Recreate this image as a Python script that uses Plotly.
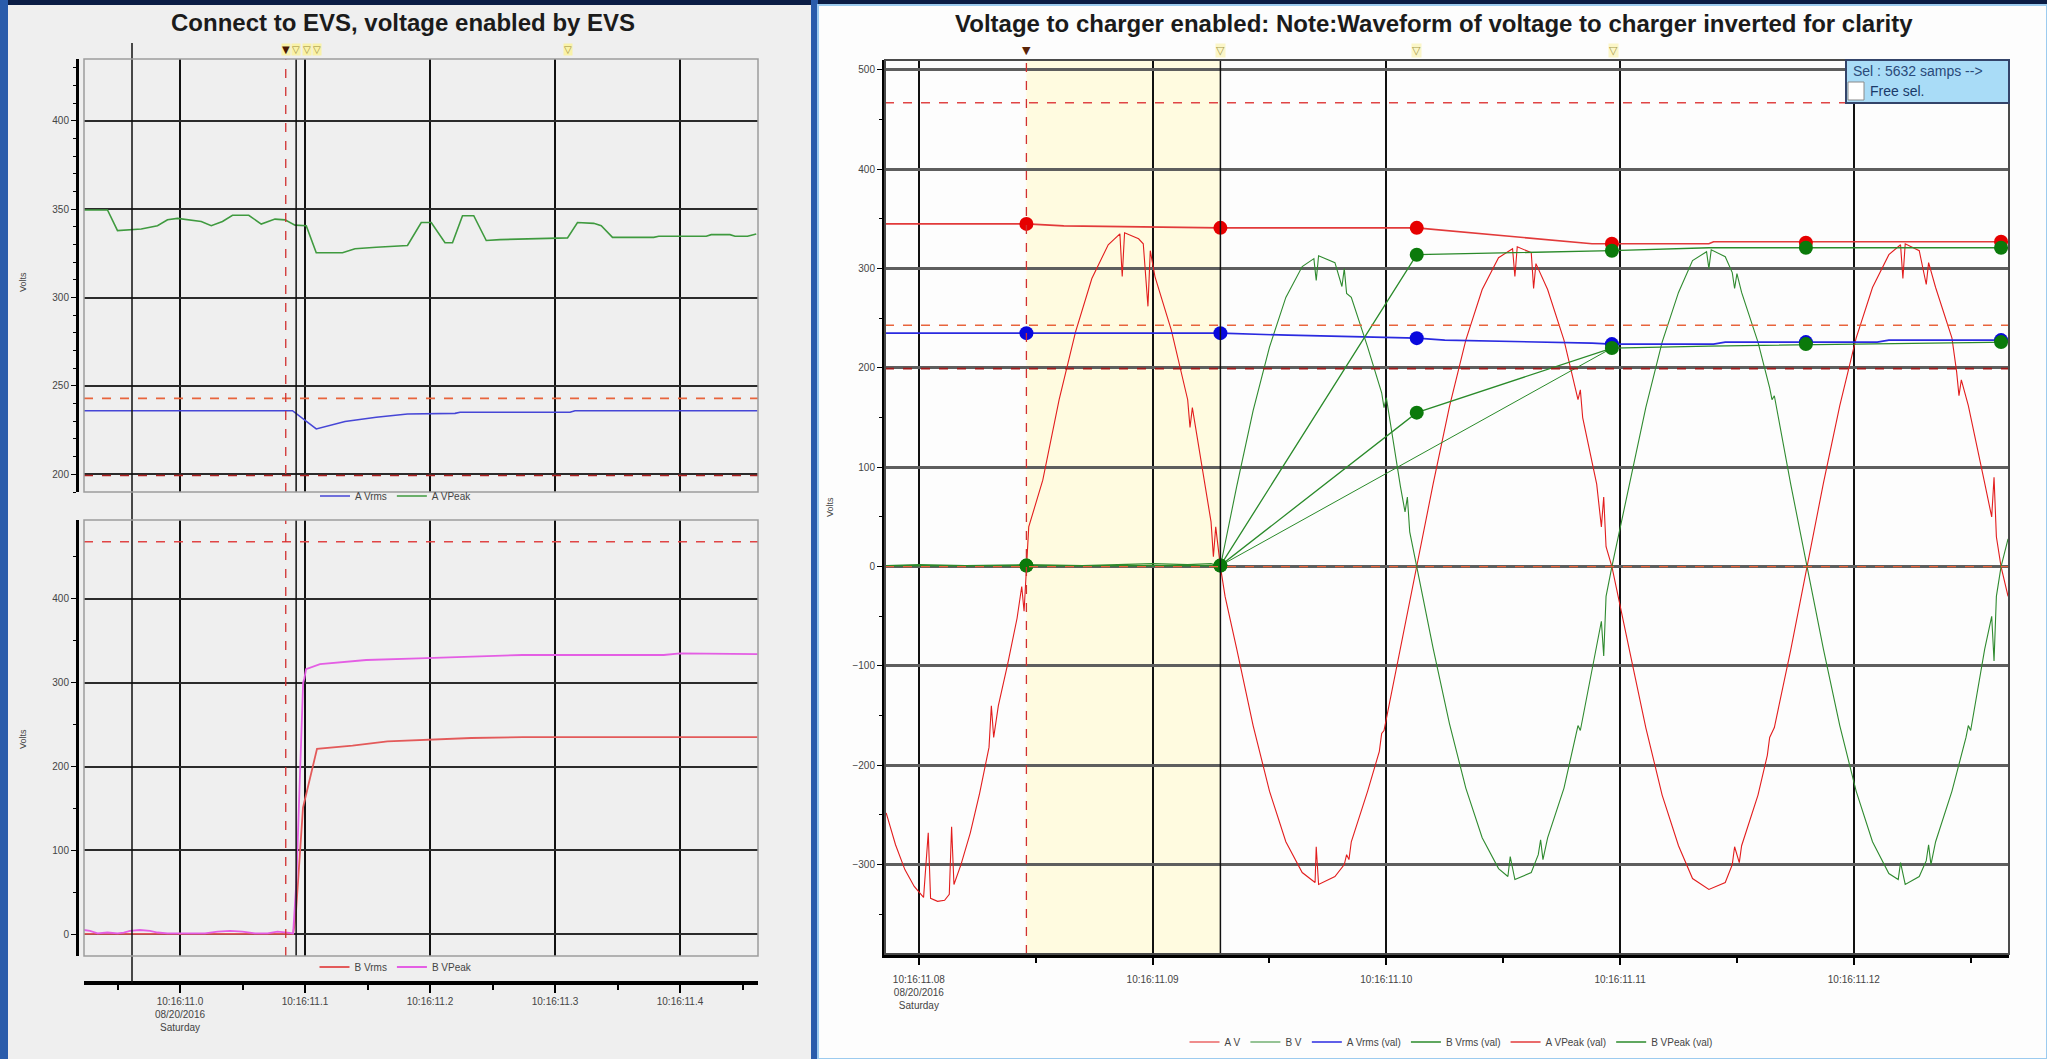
import plotly.graph_objects as go

W, H = 2047, 1059

# ---------------- Left panels: time in seconds after 10:16:11.0 ----------------
L_X_RANGE = [-0.0768, 0.4624]
L_TICK_VALS = [0.0, 0.1, 0.2, 0.3, 0.4]
L_TICK_TEXT = ["10:16:11.0<br>08/20/2016<br>Saturday", "10:16:11.1", "10:16:11.2",
               "10:16:11.3", "10:16:11.4"]

A_VPEAK_T = [-0.077, -0.058, -0.050, -0.042, -0.031, -0.018, -0.010, -0.002, 0.007, 0.017,
             0.025, 0.034, 0.042, 0.055, 0.065, 0.076, 0.084, 0.092, 0.101, 0.109,
             0.130, 0.140, 0.157, 0.182, 0.193, 0.201, 0.212, 0.218, 0.226, 0.235,
             0.245, 0.256, 0.310, 0.318, 0.331, 0.337, 0.346, 0.379, 0.383, 0.421,
             0.425, 0.440, 0.444, 0.454, 0.461]
A_VPEAK_V = [349.6, 349.6, 337.9, 338.4, 338.8, 340.7, 344.0, 344.8, 343.8, 343.1,
             340.7, 343.1, 346.6, 346.6, 341.6, 344.4, 344.0, 341.0, 340.7, 325.4,
             325.4, 327.6, 328.5, 329.5, 342.5, 342.5, 331.0, 331.0, 346.3, 346.3,
             332.3, 332.8, 333.8, 342.5, 342.0, 340.7, 334.1, 334.1, 334.7, 334.7,
             335.6, 335.6, 334.7, 334.7, 336.0]

A_VRMS_T = [-0.0768, 0.090, 0.109, 0.132, 0.157, 0.182, 0.220, 0.224, 0.312, 0.316, 0.462]
A_VRMS_V = [236.0, 236.0, 225.7, 229.9, 232.3, 234.1, 234.5, 235.1, 235.1, 236.0, 236.0]

B_VRMS_T = [-0.0768, 0.0905, 0.0925, 0.0984, 0.1096, 0.138, 0.166, 0.208, 0.233, 0.274, 0.462]
B_VRMS_V = [0.5, 0.5, 20, 151, 221, 225, 230, 233, 234, 235, 235]

B_VPEAK_T = [-0.0768, -0.072, -0.066, -0.058, -0.050, -0.045, -0.040, -0.032, -0.024, -0.018,
             -0.010, 0.000, 0.020, 0.030, 0.040, 0.050, 0.060, 0.070, 0.078, 0.086,
             0.0905, 0.0930, 0.0960, 0.0985, 0.0995, 0.1008, 0.112, 0.130, 0.149, 0.191,
             0.233, 0.274, 0.387, 0.400, 0.462]
B_VPEAK_V = [5, 4, 1, 2, 1, 2, 4, 5, 4, 2,
             1, 1, 1, 3, 4, 3, 1, 1, 3, 2,
             1, 60, 180, 300, 305, 316, 322, 324, 327, 329,
             331, 333, 333, 335, 334]

L_CURSOR_LONG = -0.0384
L_MARK_TRI_FILLED = [0.0846]
L_MARK_TRI_OPEN = [0.0929, 0.1013, 0.10965, 0.3104]

# ---------------- Right panel: time in seconds after 10:16:11.0 ----------------
R_X_RANGE = [0.07855, 0.12664]
R_TICK_VALS = [0.08, 0.09, 0.10, 0.11, 0.12]
R_TICK_TEXT = ["10:16:11.08<br>08/20/2016<br>Saturday", "10:16:11.09", "10:16:11.10",
               "10:16:11.11", "10:16:11.12"]

AV_T = [0.0786, 0.0790, 0.0794, 0.0798, 0.0802, 0.0804, 0.0805, 0.0808, 0.0811, 0.0813,
        0.0814, 0.0815, 0.0818, 0.0822, 0.0826, 0.0830, 0.0831, 0.0832, 0.0834, 0.0838,
        0.0842, 0.0844, 0.0845, 0.0846, 0.0847,
        0.0853, 0.0860, 0.0867, 0.0874, 0.0881, 0.0886, 0.0887, 0.0888, 0.0894, 0.0896,
        0.0898, 0.0899, 0.0901, 0.0908, 0.0915, 0.0916, 0.0917, 0.0922, 0.0925, 0.0926,
        0.0927, 0.0929,
        0.0931, 0.0936, 0.0943, 0.0950, 0.0957, 0.0964, 0.09695, 0.0970, 0.0971, 0.0978,
        0.0982, 0.0983, 0.0984, 0.0985, 0.0992, 0.0997, 0.0998, 0.0999, 0.1006, 0.1013,
        0.1020, 0.1027, 0.1034, 0.1041, 0.1048, 0.1054, 0.1055, 0.1056, 0.1062, 0.1063,
        0.1064, 0.1069, 0.1076, 0.1082, 0.1083, 0.1084, 0.1090, 0.1092, 0.1093, 0.1094,
        0.10965,
        0.1104, 0.1111, 0.1118, 0.1125, 0.1131, 0.1138, 0.1145, 0.1148, 0.1149, 0.1151,
        0.1152, 0.1159, 0.1163, 0.1164, 0.1166, 0.1173, 0.1180,
        0.1187, 0.1194, 0.1201, 0.1208, 0.1215, 0.1220, 0.1221, 0.1222, 0.1228, 0.1231,
        0.1232, 0.1235, 0.1242, 0.1244, 0.1245, 0.1246, 0.1249, 0.1256, 0.1259, 0.1260,
        0.1261, 0.1263, 0.1266]
AV_V = [-248, -280, -305, -322, -333, -268, -334, -337, -336, -330,
        -262, -320, -300, -268, -228, -182, -140, -172, -140, -98,
        -52, -20, -45, 0, 40,
        87, 168, 236, 290, 324, 335, 292, 336, 330, 325,
        262, 318, 292, 238, 168, 140, 160, 87, 45, 10,
        40, 0,
        -30, -83, -160, -226, -277, -308, -318, -282, -320, -312,
        -300, -290, -295, -277, -226, -186, -168, -165, -83, 0,
        83, 161, 228, 279, 311, 320, 292, 322, 316, 280,
        305, 279, 228, 168, 178, 150, 83, 40, 70, 20,
        0,
        -84, -162, -230, -281, -314, -325, -318, -300, -282, -298,
        -281, -230, -190, -172, -162, -84, 0,
        84, 162, 230, 281, 314, 324, 290, 325, 318, 284,
        306, 281, 230, 196, 172, 188, 162, 84, 50, 90,
        30, 0, -30]

BV_T = [0.0786, 0.0800, 0.0820, 0.0846, 0.0870, 0.0900, 0.0915, 0.0925, 0.0929,
        0.0936, 0.0943, 0.0950, 0.0957, 0.0964, 0.0969, 0.0970, 0.0971, 0.0978, 0.0981,
        0.0982, 0.0983, 0.0985, 0.0992, 0.0998, 0.0999, 0.1000, 0.1006, 0.1008, 0.1009,
        0.1010, 0.1013,
        0.1020, 0.1027, 0.1034, 0.1041, 0.1048, 0.1052, 0.1053, 0.1055, 0.1062, 0.1065,
        0.1066, 0.1067, 0.1069, 0.1076, 0.1081, 0.1082, 0.1083, 0.1090, 0.1092, 0.1093,
        0.1094, 0.10965,
        0.1104, 0.1111, 0.1118, 0.1125, 0.1131, 0.1137, 0.1138, 0.1139, 0.1145, 0.1148,
        0.1149, 0.1150, 0.1152, 0.1159, 0.1164, 0.1165, 0.1166, 0.1173, 0.1180,
        0.1187, 0.1194, 0.1201, 0.1208, 0.1215, 0.1219, 0.1220, 0.1222, 0.1228, 0.1231,
        0.1232, 0.1233, 0.1235, 0.1242, 0.1248, 0.1249, 0.1250, 0.1256, 0.1259, 0.1260,
        0.1261, 0.1263, 0.1266]
BV_V = [1, 2, 1, 2, 1, 3, 2, 3, 0,
        81, 157, 221, 271, 302, 310, 288, 313, 306, 282,
        300, 275, 271, 221, 175, 160, 170, 81, 55, 70,
        35, 0,
        -82, -158, -223, -273, -304, -312, -292, -315, -308, -290,
        -275, -295, -273, -223, -172, -160, -165, -82, -55, -90,
        -30, 0,
        83, 160, 226, 276, 308, 317, 300, 319, 312, 296,
        280, 295, 276, 226, 180, 168, 172, 83, 0,
        -83, -160, -226, -277, -309, -315, -298, -320, -312, -296,
        -280, -300, -277, -226, -172, -160, -165, -83, -50, -95,
        -30, 0, 28]

R_CURSOR_T = [0.0846, 0.0929, 0.1013, 0.10965, 0.11795, 0.1263]
A_VPEAK_VAL = [345, 341, 341, 325, 326, 327]
A_VRMS_VAL = [235, 235, 230, 224, 226, 228]
B_VRMS_VAL = [1, 1, 155, 220, 224, 226]
B_VPEAK_VAL = [1, 1, 314, 318, 321, 321]

A_VPEAK_LINE_T = [0.07855, 0.0846, 0.0862, 0.0918, 0.0929, 0.1013, 0.1088, 0.10965, 0.1138, 0.1140, 0.12664]
A_VPEAK_LINE_V = [345, 345, 343, 341, 341, 341, 325, 325, 325, 327, 327]
A_VRMS_LINE_T = [0.07855, 0.0929, 0.0958, 0.0995, 0.1013, 0.1025, 0.1050, 0.1088, 0.10965,
                 0.1140, 0.1145, 0.1210, 0.1215, 0.12664]
A_VRMS_LINE_V = [235, 235, 233, 231, 230, 228, 227, 225, 224, 224, 226, 226, 228, 228]
B_VRMS_LINE_T = [0.07855, 0.0929, 0.1013, 0.10965, 0.1138, 0.12664]
B_VRMS_LINE_V = [1, 1, 155, 220, 222, 226]
B_VPEAK_LINE_T = [0.07855, 0.0929, 0.1013, 0.10965, 0.1138, 0.12664]
B_VPEAK_LINE_V = [1, 1, 314, 318, 321, 321]
B_EXTRA_T = [0.0929, 0.10965]
B_EXTRA_V = [1, 220]

R_MARK_TRI_OPEN = [0.0929, 0.1013, 0.1097]

# ---------------- helpers ----------------
def px(x):
    return x / W


def py(y):
    return 1 - y / H


FONT = "Liberation Sans, Arial, sans-serif"

fig = go.Figure()


def line(x, y, xa, ya, name, color, width, legend, showlegend=True):
    fig.add_trace(go.Scatter(x=x, y=y, xaxis=xa, yaxis=ya, name=name, mode="lines",
                             line=dict(color=color, width=width), legend=legend,
                             showlegend=showlegend, hoverinfo="skip"))


# Left top
line(A_VRMS_T, A_VRMS_V, "x", "y", "A Vrms", "#4646d6", 1.6, "legend")
line(A_VPEAK_T, A_VPEAK_V, "x", "y", "A VPeak", "#3f9a3f", 1.6, "legend")
# Left bottom
line(B_VRMS_T, B_VRMS_V, "x2", "y2", "B Vrms", "#e35a5a", 1.8, "legend2")
line(B_VPEAK_T, B_VPEAK_V, "x2", "y2", "B VPeak", "#e45ee4", 1.8, "legend2")
# Right
line(AV_T, AV_V, "x3", "y3", "A V", "#e21d1d", 1.1, "legend3")
line(BV_T, BV_V, "x3", "y3", "B V", "#2f8a2f", 1.1, "legend3")
line(A_VRMS_LINE_T, A_VRMS_LINE_V, "x3", "y3", "A Vrms (val)", "#2a2ae0", 1.6, "legend3")
line(B_VRMS_LINE_T, B_VRMS_LINE_V, "x3", "y3", "B Vrms (val)", "#2a8a2a", 1.3, "legend3")
line(A_VPEAK_LINE_T, A_VPEAK_LINE_V, "x3", "y3", "A VPeak (val)", "#e23a3a", 1.6, "legend3")
line(B_VPEAK_LINE_T, B_VPEAK_LINE_V, "x3", "y3", "B VPeak (val)", "#2a8a2a", 1.3, "legend3")
line(B_EXTRA_T, B_EXTRA_V, "x3", "y3", "B extra", "#2a8a2a", 1.0, "legend3", showlegend=False)

for vals, col in [(A_VPEAK_VAL, "#e60000"), (A_VRMS_VAL, "#0808dd"),
                  (B_VRMS_VAL, "#0b7a0b"), (B_VPEAK_VAL, "#0b7a0b")]:
    fig.add_trace(go.Scatter(x=R_CURSOR_T, y=vals, xaxis="x3", yaxis="y3", mode="markers",
                             marker=dict(color=col, size=14), showlegend=False,
                             hoverinfo="skip"))

tickfont = dict(family=FONT, size=10, color="#444")

layout = dict(
    width=W, height=H, autosize=False,
    margin=dict(l=0, r=0, t=0, b=0),
    paper_bgcolor="#0b1d45",
    plot_bgcolor="rgba(0,0,0,0)",
    xaxis=dict(domain=[px(84), px(758)], anchor="y", range=L_X_RANGE,
               tickmode="array", tickvals=L_TICK_VALS, showticklabels=False, ticks="",
               showgrid=True, gridcolor="#111", gridwidth=1.5, zeroline=False, showline=False),
    yaxis=dict(domain=[py(492), py(59)], anchor="free", position=px(77), range=[190, 435],
               tick0=0, dtick=50, showgrid=True, gridcolor="#2b2b2b", gridwidth=2.2,
               zeroline=False, showline=True, linecolor="black", linewidth=3,
               ticks="outside", ticklen=5, tickcolor="black", tickfont=tickfont,
               minor=dict(dtick=10, tick0=0, ticks="outside", ticklen=3, tickcolor="black")),
    xaxis2=dict(domain=[px(84), px(758)], anchor="free", position=py(983), range=L_X_RANGE,
                tickmode="array", tickvals=L_TICK_VALS, ticktext=L_TICK_TEXT,
                ticks="outside", ticklen=8, tickwidth=2, tickcolor="black",
                showline=True, linecolor="black", linewidth=4,
                showgrid=True, gridcolor="#111", gridwidth=1.5, zeroline=False,
                tickfont=tickfont,
                minor=dict(dtick=0.05, tick0=0, ticks="outside", ticklen=5, tickwidth=1.5,
                           tickcolor="black")),
    yaxis2=dict(domain=[py(956), py(520)], anchor="free", position=px(77), range=[-26, 494],
                tick0=0, dtick=100, showgrid=True, gridcolor="#2b2b2b", gridwidth=2.2,
                zeroline=False, showline=True, linecolor="black", linewidth=3,
                ticks="outside", ticklen=5, tickcolor="black", tickfont=tickfont,
                minor=dict(dtick=50, tick0=0, ticks="outside", ticklen=3, tickcolor="black")),
    xaxis3=dict(domain=[px(885), px(2009)], anchor="y3", range=R_X_RANGE,
                tickmode="array", tickvals=R_TICK_VALS, ticktext=R_TICK_TEXT,
                ticks="outside", ticklen=7, tickwidth=2, tickcolor="black",
                showline=True, linecolor="black", linewidth=4,
                showgrid=True, gridcolor="#111", gridwidth=1.5, zeroline=False,
                tickfont=tickfont, ticklabelstandoff=6,
                minor=dict(dtick=0.005, tick0=0, ticks="outside", ticklen=5, tickwidth=1.5,
                           tickcolor="black")),
    yaxis3=dict(domain=[py(954), py(60)], anchor="x3", range=[-390, 510],
                tick0=0, dtick=100, showgrid=True, gridcolor="#5e5e5e", gridwidth=3,
                zeroline=False, showline=True, linecolor="black", linewidth=3,
                ticks="outside", ticklen=5, tickcolor="black", tickfont=tickfont,
                minor=dict(dtick=50, tick0=0, ticks="outside", ticklen=3, tickcolor="black")),
    legend=dict(orientation="h", x=px(396), y=py(496), xanchor="center", yanchor="middle",
                font=dict(family=FONT, size=10, color="#444"), bgcolor="rgba(0,0,0,0)"),
    legend2=dict(orientation="h", x=px(396), y=py(967), xanchor="center", yanchor="middle",
                 font=dict(family=FONT, size=10, color="#444"), bgcolor="rgba(0,0,0,0)"),
    legend3=dict(orientation="h", x=px(1451), y=py(1042), xanchor="center", yanchor="middle",
                 font=dict(family=FONT, size=10, color="#444"), bgcolor="rgba(0,0,0,0)"),
)
fig.update_layout(**layout)

shapes = []


def prect(x0, y0, x1, y1, fill, lc=None, lw=0, layer="below"):
    shapes.append(dict(type="rect", xref="paper", yref="paper", x0=px(x0), x1=px(x1),
                       y0=py(y1), y1=py(y0), fillcolor=fill,
                       line=dict(color=lc or fill, width=lw), layer=layer))


# slide background pieces
prect(0, 0, 8, 1059, "#2a5cab")
prect(811, 0, 818, 1059, "#2a5cab")
prect(8, 5, 811, 1059, "#efefef")
prect(818, 5, 2047, 1059, "#fdfdfd", "#9ccbef", 2)

# yellow selection region (right)
shapes.append(dict(type="rect", xref="x3", yref="y3 domain", x0=R_CURSOR_T[0], x1=R_CURSOR_T[1],
                   y0=0, y1=1, fillcolor="#fffbe0", line=dict(width=0), layer="below"))


def hline(ax, yax, yv, color, dash, width=1.4):
    shapes.append(dict(type="line", xref=ax + " domain", yref=yax, x0=0, x1=1, y0=yv, y1=yv,
                       line=dict(color=color, dash=dash, width=width), layer="above"))


def vline(ax, yax, xv, color, dash, width=1.4):
    shapes.append(dict(type="line", xref=ax, yref=yax + " domain", x0=xv, x1=xv, y0=0, y1=1,
                       line=dict(color=color, dash=dash, width=width), layer="above"))


hline("x", "y", 243, "#e8643c", "dash", 1.6)
hline("x", "y", 199.3, "#b02020", "dash", 1.6)
hline("x2", "y2", 468, "#e04545", "dash", 1.6)
hline("x3", "y3", 467, "#e04545", "dash", 1.6)
hline("x3", "y3", 243, "#e8643c", "dash", 1.6)
hline("x3", "y3", 199.3, "#a01818", "dash", 1.6)
hline("x3", "y3", 0, "#e8643c", "dash", 1.4)

for ax, yax in [("x", "y"), ("x2", "y2"), ("x3", "y3")]:
    vline(ax, yax, R_CURSOR_T[0], "#d03030", "dash", 1.3)
    vline(ax, yax, R_CURSOR_T[1], "#111", "solid", 1.5)

shapes.append(dict(type="line", xref="x2", yref="paper", x0=L_CURSOR_LONG, x1=L_CURSOR_LONG,
                   y0=py(983), y1=py(43), line=dict(color="#111", width=1.5), layer="above"))

# plot frames
prect(84, 59, 758, 492, "rgba(0,0,0,0)", "#9d9d9d", 1.5, "above")
prect(84, 520, 758, 956, "rgba(0,0,0,0)", "#9d9d9d", 1.5, "above")
prect(885, 60, 2009, 954, "rgba(0,0,0,0)", "#4a4a4a", 2, "above")

# selection box
prect(1846, 60, 2009, 103, "#a9dcf7", "#34446a", 2, "above")
prect(1848, 82, 1864, 100, "#ffffff", "#8a8a8a", 1, "above")

fig.update_layout(shapes=shapes)

ann = []


def text(x, y, s, size, color="#222", xanchor="center", angle=0, bold=False, family=FONT,
         xref="paper", bg=None):
    ann.append(dict(x=x, y=py(y), xref=xref, yref="paper", text=("<b>%s</b>" % s) if bold else s,
                    showarrow=False, xanchor=xanchor, yanchor="middle", textangle=angle,
                    font=dict(family=family, size=size, color=color),
                    bgcolor=bg, borderpad=0))


text(px(403), 23, "Connect to EVS, voltage enabled by EVS", 24, "#1b1b1b", bold=True)
text(px(1434), 24, "Voltage to charger enabled: Note:Waveform of voltage to charger inverted for clarity",
     24, "#1b1b1b", bold=True)
text(px(23), 282, "Volts", 9, "#444", angle=-90)
text(px(23), 739, "Volts", 9, "#444", angle=-90)
text(px(830), 507, "Volts", 9, "#444", angle=-90)

for t in L_MARK_TRI_FILLED:
    text(t, 50, "▼", 10, "#4a1800", xref="x", family="DejaVu Sans", bg="#f9f2a8")
for t in L_MARK_TRI_OPEN:
    text(t, 50, "▽", 10, "#9a8a3a", xref="x", family="DejaVu Sans", bg="#f9f2a8")
text(R_CURSOR_T[0], 51, "▼", 11, "#5a2408", xref="x3", family="DejaVu Sans")
for t in R_MARK_TRI_OPEN:
    text(t, 51, "▽", 11, "#a89a4a", xref="x3", family="DejaVu Sans", bg="#fbf6c8")

text(px(1852), 71, "Sel : 5632 samps -->", 14, "#2a4a7a", xanchor="left")
text(px(1869), 91, "Free sel.", 14, "#1a3a6a", xanchor="left")

fig.update_layout(annotations=ann)

fig.write_html("out.html")
